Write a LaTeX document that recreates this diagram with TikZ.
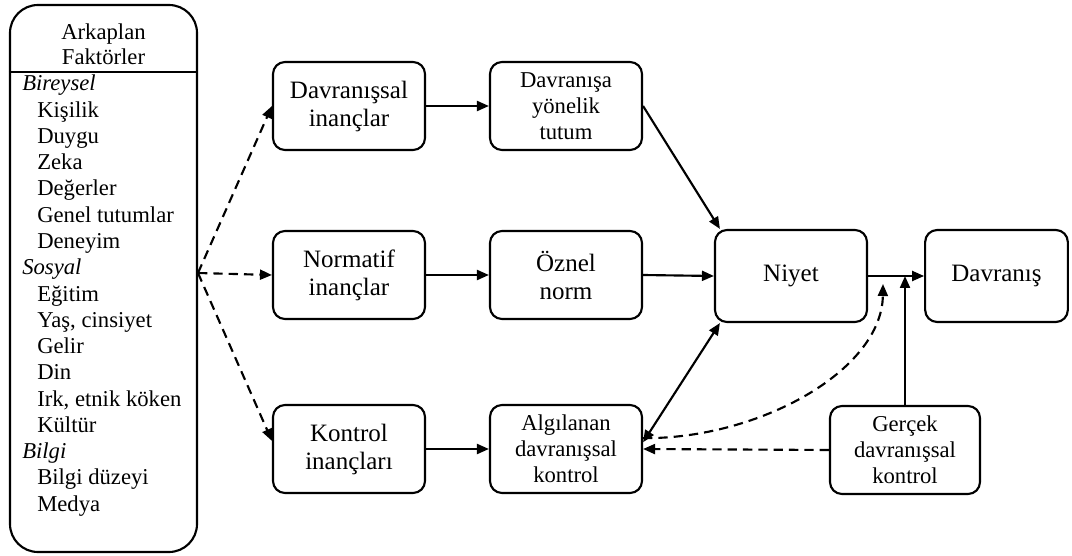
\documentclass[tikz,border=0pt]{standalone}
\usepackage{fontspec}
\setmainfont{Liberation Serif}
\usetikzlibrary{arrows.meta}

\begin{document}
\begin{tikzpicture}[x=0.75pt,y=-0.75pt,
>={Triangle[length=9pt,width=7.5pt]},
blk/.style={%
draw,
rounded corners=9pt,
line width=1.6pt,
minimum width=114pt,
minimum height=66pt,
align=center,
font=\fontsize{18.75}{21}\selectfont
},
sblk/.style={%
blk,
font=\fontsize{17}{19.5}\selectfont
},
item/.style={%
anchor=base west,
inner sep=0pt,
font=\fontsize{17}{19.7}\selectfont
},
head/.style={%
item,
anchor=base
},
ok/.style={%
line width=1.6pt,
->
},
dsh/.style={%
ok,
dash pattern=on 7pt off 4.5pt
},
]
\useasboundingbox(0,0)rectangle(1072,556);
%% arkaplan
\node[draw,line width=1.6pt,rounded corners=21pt,minimum width=140.25pt,minimum height=410.25pt]at(103.5,278.5)(arka){};
\node[head]at(103.5,40)(b1){Arkaplan};
\node[head]at(103.5,65)(b2){Faktörler};
\coordinate(ayrac)at(0,72);
\draw[line width=1.2pt](arka.west|-ayrac)--(arka.east|-ayrac);
\foreach \g/\t [count=\i from 0] in {0/\textit{Bireysel},1/Kişilik,1/Duygu,1/Zeka,1/Değerler,1/Genel tutumlar,1/Deneyim,0/\textit{Sosyal},1/Eğitim,1/{Yaş, cinsiyet},1/Gelir,1/Din,1/{Irk, etnik köken},1/Kültür,0/\textit{Bilgi},1/Bilgi düzeyi,1/Medya}
\node[item]at(22+15*\g,91+26.25*\i)(l\i){\t};
%% inanclar
\node[blk]at(349,106)(dinanc){Davranışsal\\inançlar};
\node[blk]at(349,275)(ninanc){Normatif\\inançlar};
\node[blk]at(349,449)(kinanc){Kontrol\\inançları};
%% ara
\node[sblk]at(566,106)(tutum){Davranışa\\yönelik\\tutum};
\node[blk]at(566,275)(norm){Öznel\\norm};
\node[sblk]at(566,449)(algi){Algılanan\\davranışsal\\kontrol};
%% sonuc
\node[blk,minimum height=69pt]at(791,276)(niyet){Niyet};
\node[blk,minimum height=69pt,minimum width=107pt]at(996.5,276)(davranis){Davranış};
\node[sblk,minimum width=112.5pt]at(905,450)(gercek){Gerçek\\davranışsal\\kontrol};
%% oklar
\coordinate(fan)at(198,273);
\draw[dsh](fan)--(dinanc.west);
\draw[dsh](fan)--(ninanc.west);
\draw[dsh](fan)--(kinanc.174);
\draw[ok](dinanc.east)--(tutum.west);
\draw[ok](ninanc.east)--(norm.west);
\draw[ok](kinanc.east)--(algi.west);
\draw[ok](tutum.east)--([xshift=4.5pt]niyet.north west);
\draw[ok](norm.east)--(niyet.west);
\draw[ok,<->](algi.5)--([xshift=4.5pt]niyet.south west);
\draw[ok](niyet.east)--(davranis.west);
\draw[ok](gercek.north)--(gercek.north|-niyet.east);
\draw[dsh](gercek.west)--(algi.east);
\coordinate(kv)at(883,284);
\draw[dsh](algi.8)..controls(760,439)and(882,370)..(kv);
\end{tikzpicture}
\end{document}
